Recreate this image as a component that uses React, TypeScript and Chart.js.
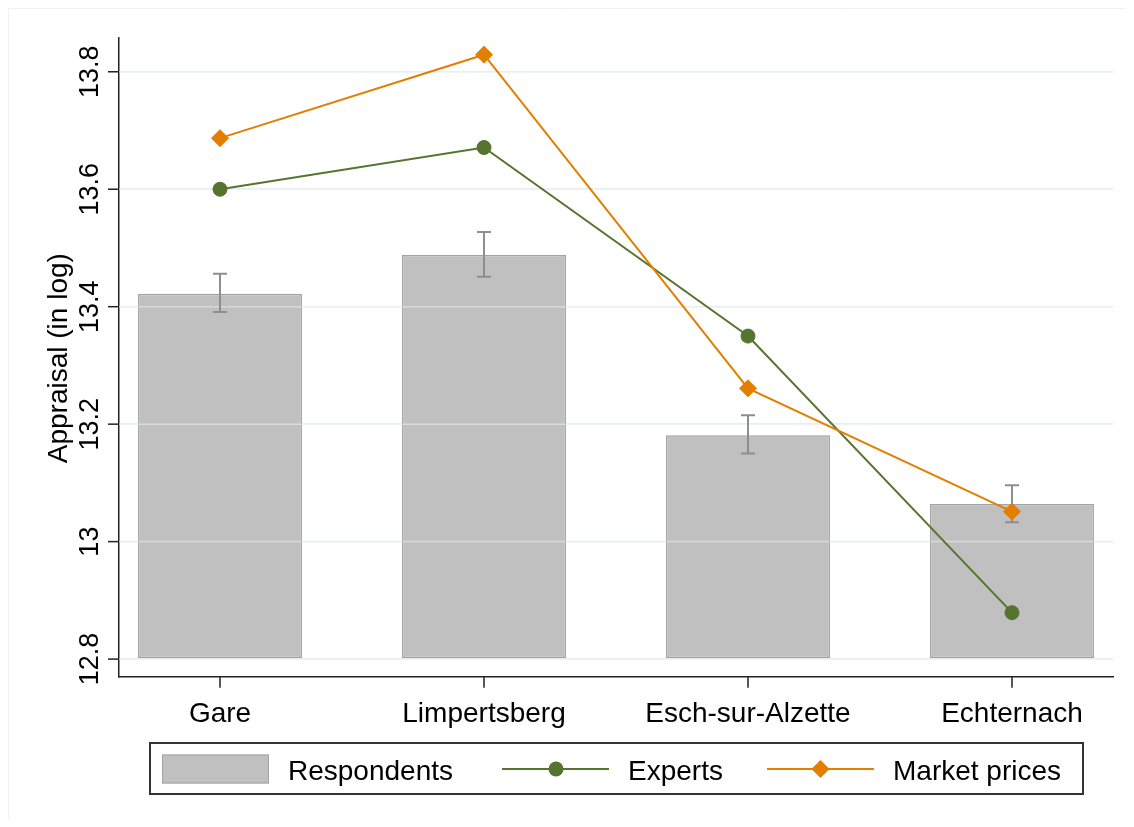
import React, { useEffect, useRef } from "react";
import { Chart, registerables } from "chart.js";

Chart.register(...registerables);

const categories = ["Gare", "Limpertsberg", "Esch-sur-Alzette", "Echternach"];
const respondents = [13.422, 13.488, 13.181, 13.064];
const respondentsLow = [13.391, 13.451, 13.150, 13.033];
const respondentsHigh = [13.456, 13.527, 13.215, 13.096];
const experts = [13.6, 13.671, 13.35, 12.879];
const marketPrices = [13.687, 13.829, 13.261, 13.051];
const yTicks = [12.8, 13, 13.2, 13.4, 13.6, 13.8];
const yTickLabels = ["12.8", "13", "13.2", "13.4", "13.6", "13.8"];
const yTitle = "Appraisal (in log)";
const seriesLabels = ["Respondents", "Experts", "Market prices"];

const FONT = "'Liberation Sans', Arial, Helvetica, sans-serif";
const GREEN = "#55752f";
const ORANGE = "#e37e00";
const BAR_FILL = "#c0c0c0";
const BAR_BORDER = "#a3a3a3";
const GRID = "#e8eff2";
const ERR = "#8e8e8e";
const AXIS = "#222222";

const decor = {
  id: "stataDecor",
  beforeDraw(chart: any) {
    const { ctx, width, height } = chart;
    ctx.save();
    ctx.fillStyle = "#ffffff";
    ctx.fillRect(0, 0, width, height);
    ctx.strokeStyle = "#eef1f3";
    ctx.lineWidth = 1;
    ctx.beginPath();
    ctx.moveTo(0.5, height);
    ctx.lineTo(0.5, 0.5);
    ctx.lineTo(width, 0.5);
    ctx.stroke();
    ctx.restore();
  },
  afterDatasetDraw(chart: any, args: any) {
    if (args.index !== 0) return;
    const { ctx, chartArea } = chart;
    const ys = chart.scales.y;
    const xs = chart.scales.x;
    ctx.save();
    // faint grid over bars
    ctx.strokeStyle = "rgba(232,239,242,0.55)";
    ctx.lineWidth = 1.5;
    yTicks.forEach((v) => {
      const py = ys.getPixelForValue(v);
      ctx.beginPath();
      ctx.moveTo(chartArea.left, py);
      ctx.lineTo(chartArea.right, py);
      ctx.stroke();
    });
    // error bars
    ctx.strokeStyle = ERR;
    ctx.lineWidth = 2;
    categories.forEach((_, i) => {
      const px = xs.getPixelForValue(i);
      const top = ys.getPixelForValue(respondentsHigh[i]);
      const bot = ys.getPixelForValue(respondentsLow[i]);
      ctx.beginPath();
      ctx.moveTo(px, top);
      ctx.lineTo(px, bot);
      ctx.moveTo(px - 7, top);
      ctx.lineTo(px + 7, top);
      ctx.moveTo(px - 7, bot);
      ctx.lineTo(px + 7, bot);
      ctx.stroke();
    });
    ctx.restore();
  },
  afterDraw(chart: any) {
    const { ctx, chartArea } = chart;
    const ys = chart.scales.y;
    const xs = chart.scales.x;
    ctx.save();
    ctx.strokeStyle = AXIS;
    ctx.lineWidth = 1.5;
    // y tick marks + labels
    ctx.fillStyle = "#000";
    ctx.font = `27px ${FONT}`;
    yTicks.forEach((v, i) => {
      const py = ys.getPixelForValue(v);
      ctx.beginPath();
      ctx.moveTo(chartArea.left, py);
      ctx.lineTo(chartArea.left - 11, py);
      ctx.stroke();
      ctx.save();
      ctx.translate(chartArea.left - 21, py);
      ctx.rotate(-Math.PI / 2);
      ctx.textAlign = "center";
      ctx.textBaseline = "alphabetic";
      ctx.fillText(yTickLabels[i], 0, 0);
      ctx.restore();
    });
    // y title
    ctx.save();
    ctx.font = `28px ${FONT}`;
    ctx.translate(chartArea.left - 52, (chartArea.top + chartArea.bottom) / 2 + 1);
    ctx.rotate(-Math.PI / 2);
    ctx.textAlign = "center";
    ctx.textBaseline = "alphabetic";
    ctx.fillText(yTitle, 0, 0);
    ctx.restore();
    // x tick marks + labels
    ctx.font = `28px ${FONT}`;
    ctx.textAlign = "center";
    ctx.textBaseline = "alphabetic";
    categories.forEach((c, i) => {
      const px = xs.getPixelForValue(i);
      ctx.beginPath();
      ctx.moveTo(px, chartArea.bottom);
      ctx.lineTo(px, chartArea.bottom + 11);
      ctx.stroke();
      ctx.fillText(c, px, chartArea.bottom + 45);
    });
    // legend
    const lx = 142, ly = 735, lw = 933, lh = 51;
    ctx.strokeStyle = "#333333";
    ctx.lineWidth = 2;
    ctx.strokeRect(lx, ly, lw, lh);
    const cy = ly + lh / 2 + 0.5;
    // swatch
    ctx.fillStyle = BAR_FILL;
    ctx.fillRect(154, cy - 14.5, 107, 29);
    ctx.strokeStyle = BAR_BORDER;
    ctx.lineWidth = 1;
    ctx.strokeRect(154.5, cy - 14, 106, 28);
    ctx.fillStyle = "#000";
    ctx.textAlign = "left";
    ctx.font = `28px ${FONT}`;
    const labels = chart.data.datasets.map((d: any) => d.label);
    ctx.fillText(labels[0], 280, cy + 10.5);
    // experts
    ctx.strokeStyle = GREEN;
    ctx.lineWidth = 2;
    ctx.beginPath();
    ctx.moveTo(494, cy);
    ctx.lineTo(601, cy);
    ctx.stroke();
    ctx.fillStyle = GREEN;
    ctx.beginPath();
    ctx.arc(548, cy, 7.5, 0, Math.PI * 2);
    ctx.fill();
    ctx.fillStyle = "#000";
    ctx.fillText(labels[1], 620, cy + 10.5);
    // market
    ctx.strokeStyle = ORANGE;
    ctx.beginPath();
    ctx.moveTo(759, cy);
    ctx.lineTo(866, cy);
    ctx.stroke();
    ctx.fillStyle = ORANGE;
    const dx = 812.5, r = 9;
    ctx.beginPath();
    ctx.moveTo(dx - r, cy);
    ctx.lineTo(dx, cy - r);
    ctx.lineTo(dx + r, cy);
    ctx.lineTo(dx, cy + r);
    ctx.closePath();
    ctx.fill();
    ctx.fillStyle = "#000";
    ctx.fillText(labels[2], 885, cy + 10.5);
    ctx.restore();
  },
};

export default function App() {
  const ref = useRef<HTMLCanvasElement | null>(null);
  useEffect(() => {
    if (!ref.current) return;
    const chart = new Chart(ref.current, {
      type: "bar",
      data: {
        datasets: [
          {
            type: "bar",
            label: seriesLabels[0],
            data: categories.map((_, i) => ({ x: i, y: respondents[i] })),
            base: 12.8,
            backgroundColor: BAR_FILL,
            borderColor: BAR_BORDER,
            borderWidth: 1.5,
            borderSkipped: false,
            categoryPercentage: 1,
            barPercentage: 0.621,
            order: 3,
          } as any,
          {
            type: "line",
            label: seriesLabels[1],
            data: categories.map((_, i) => ({ x: i, y: experts[i] })),
            borderColor: GREEN,
            backgroundColor: GREEN,
            borderWidth: 2,
            pointStyle: "circle",
            pointRadius: 7,
            pointBorderWidth: 1,
            pointBackgroundColor: GREEN,
            pointBorderColor: GREEN,
            tension: 0,
            order: 2,
          } as any,
          {
            type: "line",
            label: seriesLabels[2],
            data: categories.map((_, i) => ({ x: i, y: marketPrices[i] })),
            borderColor: ORANGE,
            backgroundColor: ORANGE,
            borderWidth: 2,
            pointStyle: "rectRot",
            pointRadius: 8.5,
            pointBorderWidth: 1,
            pointBackgroundColor: ORANGE,
            pointBorderColor: ORANGE,
            tension: 0,
            order: 1,
          } as any,
        ],
      },
      options: {
        responsive: false,
        animation: false,
        devicePixelRatio: 1,
        layout: { padding: { left: 111, right: 13, top: 29.7, bottom: 142.3 } },
        plugins: { legend: { display: false }, tooltip: { enabled: false } },
        events: [],
        scales: {
          x: {
            type: "linear",
            offset: false,
            min: -0.3826,
            max: 3.3826,
            afterBuildTicks: (s: any) => {
              s.ticks = categories.map((_, i) => ({ value: i }));
            },
            ticks: { display: false },
            grid: { display: false, drawTicks: false, offset: false },
            border: { display: true, color: AXIS, width: 1.5 },
          },
          y: {
            type: "linear",
            min: 12.77,
            max: 13.858,
            afterBuildTicks: (s: any) => {
              s.ticks = yTicks.map((v) => ({ value: v }));
            },
            ticks: { display: false },
            grid: { display: true, color: GRID, lineWidth: 1.5, drawTicks: false },
            border: { display: true, color: AXIS, width: 1.5 },
          },
        },
      } as any,
      plugins: [decor],
    });
    return () => chart.destroy();
  }, []);
  return <canvas ref={ref} width={1118} height={811} style={{ display: "block" }} />;
}
